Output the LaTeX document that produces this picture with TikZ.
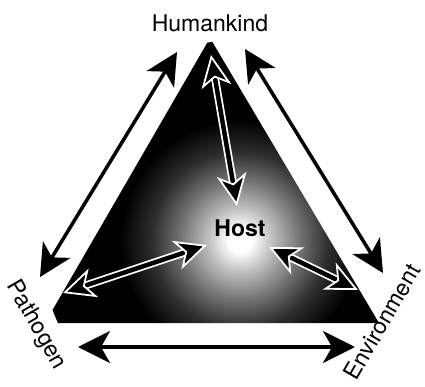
\documentclass[tikz,border=0pt]{standalone}
\usepackage{fontspec}
\setmainfont{TeX Gyre Heros}
\usetikzlibrary{arrows.meta}
\pgfdeclareradialshading{glow}{\pgfpointorigin}{color(0bp)=(white); color(1.5bp)=(white); color(4bp)=(black!25); color(7.5bp)=(black!55); color(11bp)=(black!82); color(15bp)=(black); color(50bp)=(black)}
\begin{document}
\begin{tikzpicture}[x=1pt,y=1pt,
  corner/.style={font=\fontsize{23}{27}\selectfont},
  link/.style={line width=3.5pt, {Stealth[length=32pt,width=32pt,inset=9pt]}-{Stealth[length=32pt,width=32pt,inset=9pt]}},
  halo/.style={white, line width=8pt, shorten <=18pt, shorten >=18pt},
  tie/.style={line width=4.5pt, {Stealth[length=32pt,width=30pt,inset=9pt,color=white,fill=black,line width=1.8pt]}-{Stealth[length=32pt,width=30pt,inset=9pt,color=white,fill=black,line width=1.8pt]}}]
\useasboundingbox (0,0) rectangle (425,386);
% triangle with glow
\coordinate (t) at (210,348);
\coordinate (l) at (45,63);
\coordinate (r) at (379,63);
\begin{scope}
\clip (t) -- (l) -- (r) -- cycle;
\shade[shading=glow] (240,146) circle (200);
\end{scope}
% labels
\node[corner, anchor=base] (humankind) at (210,354) {Humankind};
\node[corner, rotate=-60] (pathogen) at (36,61) {Pathogen};
\node[corner, rotate=60] (environment) at (382,64) {Environment};
\node[font=\bfseries\fontsize{23}{27}\selectfont] (host) at (240,158) {Host};
% arrow ends
\coordinate (hp1) at (177,334);
\coordinate (hp2) at (40,109);
\coordinate (he1) at (245,337);
\coordinate (he2) at (383,113);
\coordinate (pe1) at (78,39);
\coordinate (pe2) at (355,39);
\coordinate (hh1) at (211,331);
\coordinate (hh2) at (237,180);
\coordinate (ph1) at (63,93);
\coordinate (ph2) at (207,141);
\coordinate (eh1) at (269,139);
\coordinate (eh2) at (358,96);
% outer arrows
\draw[link] (hp1) -- (hp2);
\draw[link] (he1) -- (he2);
\draw[link] (pe1) -- (pe2);
% inner arrows
\draw[halo] (hh1) -- (hh2);
\draw[tie] (hh1) -- (hh2);
\draw[halo] (ph1) -- (ph2);
\draw[tie] (ph1) -- (ph2);
\draw[halo] (eh1) -- (eh2);
\draw[tie] (eh1) -- (eh2);
\end{tikzpicture}
\end{document}
